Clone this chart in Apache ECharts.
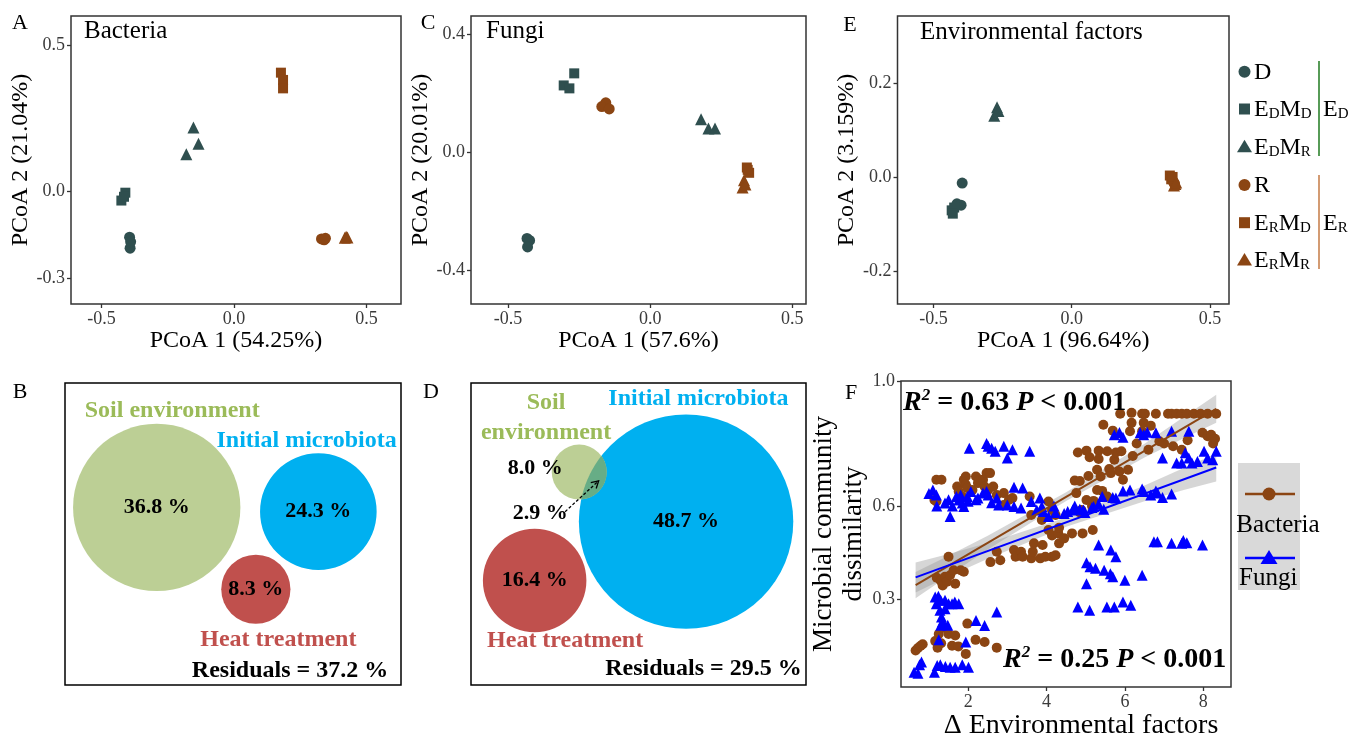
<!DOCTYPE html>
<html><head><meta charset="utf-8">
<script src="https://cdn.jsdelivr.net/npm/echarts@6/dist/echarts.min.js"></script>
<style>html,body{margin:0;padding:0;background:#fff}#c{width:1352px;height:736px}</style>
</head><body><div id="c"></div>
<script>
const FONT = "'Liberation Serif','Times New Roman',serif";
const C_DARK = '#2F4F4F', C_BROWN = '#8B4513', C_BLUE = '#0000FF';

// ---------- Panel A: Bacteria PCoA ----------
const bacD    = [[-0.394,-0.159],[-0.392,-0.197],[-0.390,-0.175]];
const bacEDMD = [[-0.410,-0.006],[-0.425,-0.033],[-0.415,-0.020]];
const bacEDMR = [[-0.153,0.218],[-0.134,0.162],[-0.180,0.126]];
const bacR    = [[0.330,-0.165],[0.340,-0.168],[0.345,-0.163]];
const bacERMD = [[0.177,0.407],[0.185,0.382],[0.185,0.353]];
const bacERMR = [[0.423,-0.158],[0.428,-0.160],[0.418,-0.161]];
// ---------- Panel C: Fungi PCoA ----------
const funD    = [[-0.433,-0.293],[-0.424,-0.300],[-0.431,-0.322]];
const funEDMD = [[-0.267,0.268],[-0.304,0.227],[-0.284,0.217]];
const funEDMR = [[0.179,0.112],[0.205,0.081],[0.228,0.081]];
const funR    = [[-0.156,0.168],[-0.170,0.155],[-0.144,0.147]];
const funERMD = [[0.340,-0.052],[0.348,-0.070],[0.343,-0.060]];
const funERMR = [[0.330,-0.095],[0.325,-0.120],[0.335,-0.110]];
// ---------- Panel E: Environmental factors PCoA ----------
const envD    = [[-0.396,-0.013],[-0.415,-0.057],[-0.400,-0.060]];
const envEDMD = [[-0.434,-0.071],[-0.425,-0.065],[-0.430,-0.078]];
const envEDMR = [[-0.270,0.148],[-0.280,0.130],[-0.265,0.140]];
const envR    = [[0.370,-0.012],[0.365,-0.008],[0.372,-0.015]];
const envERMD = [[0.355,0.003],[0.360,-0.005],[0.365,0.000]];
const envERMR = [[0.375,-0.015],[0.370,-0.018],[0.378,-0.012]];

const pcoaXTicks = [-0.5, 0, 0.5];
const bacYTicks = [-0.3, 0, 0.5];
const funYTicks = [-0.4, 0, 0.4];
const envYTicks = [-0.2, 0, 0.2];

// ---------- Panels B / D: variation partitioning ----------
const vennBNames = ['Soil environment', 'Initial microbiota', 'Heat treatment'];
const vennBValues = [36.8, 24.3, 8.3];
const vennBResidual = 37.2;
const vennDNames = ['Soil\nenvironment', 'Initial microbiota', 'Heat treatment'];
const vennDValues = [8.0, 48.7, 16.4];
const vennDShared = 2.9;
const vennDResidual = 29.5;

// ---------- Panel F ----------
const bacteriaPoints = [
 [0.66,0.137],[0.72,0.145],[0.79,0.152],[0.84,0.157],[1.16,0.167],[1.22,0.146],[1.25,0.19],[1.31,0.16],[1.37,0.21],[1.5,0.19],[1.59,0.152],[1.67,0.185],[1.75,0.15],[1.94,0.126],[1.98,0.223],[2.19,0.171],[2.42,0.164],[2.73,0.146],
 [1.2,0.37],[1.3,0.36],[1.32,0.362],[1.35,0.345],[1.41,0.373],[1.46,0.357],[1.5,0.437],[1.54,0.378],[1.63,0.394],[1.67,0.351],[1.81,0.394],[1.89,0.389],
 [1.14,0.619],[1.19,0.614],[1.19,0.684],[1.32,0.684],[1.72,0.662],[1.76,0.646],[1.85,0.63],[1.89,0.684],[1.94,0.694],[1.94,0.668],[1.98,0.657],[2.11,0.651],[2.2,0.694],[2.25,0.673],[2.29,0.684],[2.38,0.684],[2.42,0.662],[2.47,0.705],[2.51,0.651],[2.56,0.705],[2.64,0.662],[2.73,0.635],[2.91,0.641],[2.91,0.603],[3.04,0.619],[3.13,0.625],[3.57,0.63],
 [2.57,0.42],[2.73,0.453],[2.82,0.426],[3.17,0.459],[3.21,0.437],[3.35,0.453],[3.39,0.437],[3.61,0.432],[3.65,0.453],[3.68,0.48],[3.84,0.432],[3.9,0.475],[3.97,0.437],[4.05,0.523],[4.14,0.437],[4.14,0.505],[4.23,0.442],[4.3,0.512],[4.32,0.48],[4.45,0.496],[4.65,0.512],[4.92,0.512],[5.18,0.523],[3.61,0.571],[3.88,0.555],[4.05,0.614],[4.14,0.587],[4.23,0.571],[4.32,0.53],
 [4.72,0.681],[4.76,0.641],[4.8,0.771],[4.85,0.68],[4.85,0.579],[4.89,0.587],[5.02,0.777],[5.02,0.619],[5.07,0.696],[5.1,0.756],[5.16,0.6],[5.2,0.616],[5.29,0.716],[5.29,0.651],[5.33,0.777],[5.33,0.75],[5.38,0.694],[5.42,0.648],[5.45,0.86],[5.55,0.63],[5.55,0.775],[5.6,0.718],[5.64,0.705],[5.69,0.841],[5.73,0.748],[5.77,0.771],[5.86,0.71],[5.88,0.895],[5.91,0.775],[5.95,0.684],[6.08,0.716],[6.13,0.839],[6.17,0.866],[6.17,0.898],[6.2,0.76],[6.3,0.8],[6.44,0.895],[6.44,0.839],[6.48,0.866],[6.51,0.895],[6.6,0.78],[6.66,0.857],[6.79,0.895],[6.88,0.807],[7.0,0.8],[7.1,0.895],[7.19,0.895],[7.23,0.791],[7.32,0.895],[7.45,0.895],[7.45,0.78],[7.58,0.895],[7.6,0.81],[7.76,0.895],[7.93,0.895],[7.98,0.834],[8.11,0.823],[8.11,0.895],[8.2,0.828],[8.25,0.8],[8.33,0.895],[8.3,0.815]
];
const fungiPoints = [
 [0.62,0.067],[0.72,0.064],[0.76,0.091],[0.81,0.1],[1.14,0.067],[1.21,0.089],[1.29,0.091],[1.42,0.086],[1.54,0.083],[1.67,0.083],[1.85,0.091],[2.01,0.083],
 [1.16,0.308],[1.19,0.287],[1.24,0.311],[1.3,0.298],[1.41,0.298],[1.5,0.287],[1.59,0.287],[1.66,0.292],[1.76,0.287],[1.28,0.266],[1.32,0.244],[1.41,0.271],[1.3,0.218],[1.48,0.218],[1.35,0.23],[1.25,0.171],[1.94,0.164],[2.2,0.233],[2.42,0.217],[2.73,0.26],
 [2.03,0.785],[2.47,0.8],[2.51,0.791],[2.6,0.785],[2.69,0.775],[2.91,0.791],[3.0,0.753],[3.13,0.78],[3.57,0.775],
 [1.0,0.64],[1.1,0.651],[1.19,0.635],[1.2,0.6],[1.41,0.609],[1.5,0.62],[1.54,0.566],[1.6,0.6],[1.7,0.63],[1.76,0.619],[1.81,0.635],[1.85,0.609],[1.89,0.598],[1.98,0.63],[2.0,0.615],[2.07,0.646],[2.2,0.62],[2.25,0.625],[2.38,0.641],[2.47,0.646],[2.51,0.635],[2.6,0.61],[2.73,0.625],[2.78,0.603],[3.0,0.603],[3.17,0.598],[3.17,0.66],[3.35,0.593],[3.39,0.657],[3.61,0.614],
 [3.75,0.587],[3.83,0.625],[3.88,0.598],[3.92,0.582],[4.05,0.566],[4.19,0.6],[4.23,0.579],[4.45,0.576],[4.54,0.582],[4.67,0.587],[4.72,0.6],[4.85,0.589],[4.94,0.587],[4.98,0.579],[5.16,0.595],[5.2,0.598],[5.33,0.605],[5.42,0.63],[5.46,0.589],[5.69,0.627],[5.77,0.625],[5.95,0.648],[6.13,0.651],[6.44,0.654],[6.48,0.646],[6.66,0.635],[6.79,0.648],[6.83,0.641],[6.96,0.627],[7.19,0.638],
 [5.73,0.828],[5.86,0.835],[5.95,0.82],[6.39,0.834],[6.48,0.828],[6.57,0.836],[6.79,0.834],[7.19,0.839],[7.63,0.839],[6.96,0.753],[7.32,0.737],[7.45,0.737],[7.54,0.77],[7.63,0.753],[7.71,0.737],[7.85,0.742],[8.02,0.775],[8.11,0.753],[8.24,0.748],[8.33,0.775],
 [4.8,0.276],[5.02,0.418],[5.02,0.351],[5.11,0.405],[5.1,0.266],[5.25,0.4],[5.33,0.475],[5.47,0.394],[5.54,0.276],[5.63,0.383],[5.64,0.459],[5.69,0.373],[5.73,0.276],[5.77,0.437],[5.95,0.292],[6.0,0.362],[6.15,0.282],[6.44,0.378],
 [6.74,0.485],[6.83,0.485],[7.19,0.48],[7.45,0.48],[7.49,0.489],[7.58,0.482],[7.98,0.475]
];
const bacteriaFit = [[0.66,0.346],[8.33,0.911]];
const fungiFit = [[0.66,0.371],[8.33,0.723]];
const bandX = [0.66,1.5,2.5,4.5,6.5,7.5,8.33];
const bacteriaLower = [0.304,0.376,0.46,0.616,0.755,0.817,0.866];
const bacteriaUpper = [0.388,0.44,0.504,0.644,0.799,0.885,0.956];
const fungiLower = [0.323,0.374,0.431,0.533,0.615,0.651,0.678];
const fungiUpper = [0.419,0.446,0.481,0.563,0.665,0.721,0.768];
const fXTicks = [2,4,6,8];
const fYTicks = [0.3,0.6,1.0];

// ---------- layout (box fractions) ----------
const VENN_FILL = ['#bccf95','#00b0f0','#c0504d'];
const VENN_TEXT = ['#9bbb59','#00b0f0','#c0504d'];
const LAYOUT_B = {circles:[{c:[0.273,0.412],r:0.249},{c:[0.754,0.426],r:0.1735},{c:[0.568,0.683],r:0.103}],
  names:[[0.319,0.091],[0.719,0.19],[0.635,0.849]], residual:[0.962,0.953]};
const LAYOUT_D = {circles:[{c:[0.323,0.295],r:0.082},{c:[0.642,0.459],r:0.32},{c:[0.19,0.654],r:0.1545}],
  names:[[0.224,0.116],[0.679,0.053],[0.281,0.853]], valuePos:[[0.192,0.282],null,null],
  shared:[0.207,0.431], arrow:[[0.281,0.426],[0.381,0.324]], residual:[0.987,0.948], lens:true};

const chart = echarts.init(document.getElementById('c'), null, {renderer:'canvas'});

function txt(text, x, y, o) {
  o = o || {};
  return {type:'text', x:x, y:y, z:10, silent:true, style:{text:text, fill:o.fill||'#000',
    fontSize:o.fs||24, fontWeight:o.fw||'normal', fontStyle:o.st||'normal', fontFamily:FONT,
    textAlign:o.align||'left', align:o.align||'left', textVerticalAlign:'middle', verticalAlign:'middle',
    lineHeight:o.lh, rich:o.rich}};
}

function vAxis(grid, min, max, ticks, fmt, name, gap, isY, o) {
  o = o || {};
  return {type:'value', gridIndex:grid, min:min, max:max,
    axisLine:{show:false, onZero:false}, splitLine:{show:false},
    axisTick:{show:true, customValues:ticks, length:4, lineStyle:{color:'#333', width:1.3}},
    axisLabel:{show:true, customValues:ticks, formatter:fmt, color:'#3a3a3a', fontFamily:FONT, fontSize:o.fs||18, margin:o.margin||6},
    name:name, nameLocation:'middle', nameGap:gap, nameRotate:isY?90:0,
    nameTextStyle:{fontFamily:FONT, fontSize:o.nfs||24, color:'#000', lineHeight:o.lh, padding:o.pad}};
}
const f1 = v => Number(v).toFixed(1);
const f0 = v => String(v);

function hiddenAxis(grid, inv) { return {type:'value', gridIndex:grid, min:0, max:1, show:false, inverse:!!inv, axisLine:{onZero:false}}; }

const SYMS = ['circle','rect','triangle','circle','rect','triangle'];
const SIZES = [11,10,12,11,10,12];
const COLS = [C_DARK,C_DARK,C_DARK,C_BROWN,C_BROWN,C_BROWN];
function pcoaSeries(idx, sets) {
  return sets.map((d,i) => ({type:'scatter', xAxisIndex:idx, yAxisIndex:idx, data:d, symbol:SYMS[i],
    symbolSize:SIZES[i], itemStyle:{color:COLS[i], opacity:1}, silent:true, z:3}));
}

function lensPoly(c1, r1, c2, r2, n) {
  const dx = c2[0]-c1[0], dy = c2[1]-c1[1], d = Math.hypot(dx,dy);
  const a = (r1*r1 - r2*r2 + d*d)/(2*d);
  const al1 = Math.acos(Math.max(-1,Math.min(1,a/r1))), al2 = Math.acos(Math.max(-1,Math.min(1,(d-a)/r2)));
  const t0 = Math.atan2(dy,dx), t1 = t0 + Math.PI, pts = [];
  for (let i=0;i<=n;i++){const t=t0-al1+2*al1*i/n; pts.push([c1[0]+r1*Math.cos(t), c1[1]+r1*Math.sin(t)]);}
  for (let i=0;i<=n;i++){const t=t1-al2+2*al2*i/n; pts.push([c2[0]+r2*Math.cos(t), c2[1]+r2*Math.sin(t)]);}
  return pts;
}

function vennRender(L, names, values, residual, shared) {
  return function(params, api) {
    const sx = Math.abs(api.size([1,0])[0]);
    const pc = L.circles.map(c => api.coord(c.c));
    const pr = L.circles.map(c => c.r*sx);
    const ch = [];
    [1,0,2].forEach(i => ch.push({type:'circle', shape:{cx:pc[i][0], cy:pc[i][1], r:pr[i]}, style:{fill:VENN_FILL[i]}}));
    if (L.lens) ch.push({type:'polygon', shape:{points:lensPoly(pc[0],pr[0],pc[1],pr[1],40)}, style:{fill:'#67ad86'}});
    const T = (text, p, fill, align, lh) => ({type:'text', style:{text:text, x:p[0], y:p[1], fill:fill,
      fontSize:24, fontWeight:'bold', fontFamily:FONT, textAlign:align||'center', align:align||'center',
      textVerticalAlign:'middle', verticalAlign:'middle', lineHeight:lh||30}});
    names.forEach((nm,i) => ch.push(T(nm, api.coord(L.names[i]), VENN_TEXT[i])));
    values.forEach((v,i) => {
      const p = (L.valuePos && L.valuePos[i]) ? api.coord(L.valuePos[i]) : pc[i];
      const t = T(f1(v)+' %', p, '#000'); t.style.fontSize = 22; ch.push(t);
    });
    if (shared != null) {
      const t = T(f1(shared)+' %', api.coord(L.shared), '#000'); t.style.fontSize = 22; ch.push(t);
      const p0 = api.coord(L.arrow[0]), p1 = api.coord(L.arrow[1]);
      ch.push({type:'line', shape:{x1:p0[0],y1:p0[1],x2:p1[0],y2:p1[1]}, style:{stroke:'#000', lineWidth:1.3, lineDash:[3,2]}});
      const ux = (p1[0]-p0[0]), uy = (p1[1]-p0[1]), ul = Math.hypot(ux,uy), u=[ux/ul,uy/ul], nrm=[-u[1],u[0]];
      ch.push({type:'polyline', shape:{points:[[p1[0]-7*u[0]+4*nrm[0],p1[1]-7*u[1]+4*nrm[1]],p1,[p1[0]-7*u[0]-4*nrm[0],p1[1]-7*u[1]-4*nrm[1]]]}, style:{stroke:'#000', lineWidth:1.3, fill:null}});
    }
    ch.push(T('Residuals = '+f1(residual)+' %', api.coord(L.residual), '#000', 'right'));
    return {type:'group', children:ch};
  };
}

function bandRender(lower, upper) {
  return function(params, api) {
    const pts = [];
    bandX.forEach((x,i) => pts.push(api.coord([x, upper[i]])));
    for (let i=bandX.length-1;i>=0;i--) pts.push(api.coord([bandX[i], lower[i]]));
    return {type:'polygon', shape:{points:pts}, style:{fill:'rgba(153,153,153,0.4)'}};
  };
}

const G = (left, top, width, height, col) => ({left, top, width, height, show:true, borderColor:col||'#333',
  borderWidth:1.5, backgroundColor:'transparent', containLabel:false, outerBoundsMode:'none'});

const series = [].concat(
  pcoaSeries(0, [bacD,bacEDMD,bacEDMR,bacR,bacERMD,bacERMR]),
  pcoaSeries(1, [funD,funEDMD,funEDMR,funR,funERMD,funERMR]),
  pcoaSeries(2, [envD,envEDMD,envEDMR,envR,envERMD,envERMR]),
  [
    {type:'custom', xAxisIndex:3, yAxisIndex:3, data:[[0.5,0.5]], silent:true, clip:false,
      renderItem:vennRender(LAYOUT_B, vennBNames, vennBValues, vennBResidual, null)},
    {type:'custom', xAxisIndex:4, yAxisIndex:4, data:[[0.5,0.5]], silent:true, clip:false,
      renderItem:vennRender(LAYOUT_D, vennDNames, vennDValues, vennDResidual, vennDShared)},
    {type:'scatter', xAxisIndex:5, yAxisIndex:5, data:bacteriaPoints, symbol:'circle', symbolSize:10, itemStyle:{color:C_BROWN, opacity:1}, silent:true},
    {type:'scatter', xAxisIndex:5, yAxisIndex:5, data:fungiPoints, symbol:'triangle', symbolSize:11, itemStyle:{color:C_BLUE, opacity:1}, silent:true},
    {type:'custom', xAxisIndex:5, yAxisIndex:5, data:[[4,0.5]], silent:true, renderItem:bandRender(bacteriaLower, bacteriaUpper)},
    {type:'line', xAxisIndex:5, yAxisIndex:5, data:bacteriaFit, symbol:'none', lineStyle:{color:C_BROWN, width:2}, silent:true},
    {type:'custom', xAxisIndex:5, yAxisIndex:5, data:[[4,0.5]], silent:true, renderItem:bandRender(fungiLower, fungiUpper)},
    {type:'line', xAxisIndex:5, yAxisIndex:5, data:fungiFit, symbol:'none', lineStyle:{color:C_BLUE, width:2}, silent:true}
  ]
);

// legend (panel E) and other annotations
const subRich = {
  n:{fontSize:24, fontFamily:FONT, lineHeight:26, verticalAlign:'bottom'},
  s:{fontSize:15, fontFamily:FONT, lineHeight:12, verticalAlign:'bottom'}
};
const supRich = (col) => ({
  ri:{fontSize:28, fontWeight:'bold', fontStyle:'italic', fontFamily:FONT, color:col, lineHeight:30, verticalAlign:'bottom'},
  b:{fontSize:28, fontWeight:'bold', fontFamily:FONT, color:col, lineHeight:30, verticalAlign:'bottom'},
  sup:{fontSize:17, fontWeight:'bold', fontStyle:'italic', fontFamily:FONT, color:col, lineHeight:17, verticalAlign:'top'}
});
const LX = 1244.5, LT = 1254;
const legY = [71.7,109,146.7,185,222.7,260];
const legLabels = ['{n|D}','{n|E}{s|D}{n|M}{s|D}','{n|E}{s|D}{n|M}{s|R}','{n|R}','{n|E}{s|R}{n|M}{s|D}','{n|E}{s|R}{n|M}{s|R}'];
const gfx = [];
legY.forEach((y,i) => {
  const col = COLS[i];
  if (SYMS[i]==='circle') gfx.push({type:'circle', shape:{cx:LX, cy:y, r:6}, style:{fill:col}, silent:true});
  else if (SYMS[i]==='rect') gfx.push({type:'rect', shape:{x:LX-5.5, y:y-5.5, width:11, height:11}, style:{fill:col}, silent:true});
  else gfx.push({type:'polygon', shape:{points:[[LX,y-7],[LX+7.5,y+5.5],[LX-7.5,y+5.5]]}, style:{fill:col}, silent:true});
  gfx.push(txt(legLabels[i], LT, y, {rich:subRich}));
});
gfx.push({type:'line', shape:{x1:1319, y1:61, x2:1319, y2:156}, style:{stroke:'#1f7a1f', lineWidth:1.5}, silent:true});
gfx.push({type:'line', shape:{x1:1319, y1:175, x2:1319, y2:269}, style:{stroke:'#c47a45', lineWidth:1.5}, silent:true});
gfx.push(txt('{n|E}{s|D}', 1323, 109, {rich:subRich}));
gfx.push(txt('{n|E}{s|R}', 1323, 222.7, {rich:subRich}));

// panel letters and titles
[['A',20,23],['C',428,23],['E',850,25],['B',20,392],['D',431,392],['F',851,393]].forEach(a =>
  gfx.push(txt(a[0], a[1], a[2], {fs:22, align:'center'})));
gfx.push(txt('Bacteria', 84, 31, {fs:25}));
gfx.push(txt('Fungi', 486, 31, {fs:25}));
gfx.push(txt('Environmental factors', 920, 32, {fs:25}));

// panel F annotations
gfx.push(txt('{ri|R}{sup|2}{b| = 0.63 }{ri|P}{b| < 0.001}', 903, 402, {rich:supRich(C_BROWN)}));
gfx.push(txt('{ri|R}{sup|2}{b| = 0.25 }{ri|P}{b| < 0.001}', 1003, 659, {rich:supRich(C_BLUE)}));
// panel F legend
gfx.push({type:'rect', shape:{x:1238, y:463, width:62, height:127}, style:{fill:'#d9d9d9'}, silent:true});
gfx.push({type:'line', shape:{x1:1245, y1:494, x2:1295, y2:494}, style:{stroke:C_BROWN, lineWidth:2.5}, silent:true});
gfx.push({type:'circle', shape:{cx:1269, cy:494, r:6.5}, style:{fill:C_BROWN}, silent:true});
gfx.push(txt('Bacteria', 1278, 525, {fs:25, align:'center'}));
gfx.push({type:'line', shape:{x1:1245, y1:558, x2:1295, y2:558}, style:{stroke:C_BLUE, lineWidth:2.5}, silent:true});
gfx.push({type:'polygon', shape:{points:[[1269,550],[1277.5,564],[1260.5,564]]}, style:{fill:C_BLUE}, silent:true});
gfx.push(txt('Fungi', 1239, 578, {fs:25}));

const option = {
  animation:false,
  backgroundColor:'#fff',
  grid:[G(71,16,330,288), G(471,16,335,288), G(897.5,16,331.5,288), G(65,383,336,302,'#000'), G(471,383,335,302,'#000'), G(901,381,330,306)],
  xAxis:[
    vAxis(0,-0.615,0.63,pcoaXTicks,f1,'PCoA 1 (54.25%)',23,false),
    vAxis(1,-0.63,0.548,pcoaXTicks,f1,'PCoA 1 (57.6%)',23,false),
    vAxis(2,-0.63,0.569,pcoaXTicks,f1,'PCoA 1 (96.64%)',23,false),
    hiddenAxis(3), hiddenAxis(4),
    vAxis(5,0.287,8.707,fXTicks,f0,'\u0394 Environmental factors',23,false,{fs:18, nfs:28, pad:[0,0,0,30]})
  ],
  yAxis:[
    vAxis(0,-0.389,0.602,bacYTicks,f1,'PCoA 2 (21.04%)',35,true),
    vAxis(1,-0.516,0.463,funYTicks,f1,'PCoA 2 (20.01%)',35,true),
    vAxis(2,-0.27,0.342,envYTicks,f1,'PCoA 2 (3.159%)',35,true),
    hiddenAxis(3,true), hiddenAxis(4,true),
    vAxis(5,0.02,1.0,fYTicks,f1,'Microbial community\ndissimilarity',32,true,{fs:18, nfs:27, lh:30})
  ],
  series:series,
  graphic:{elements:gfx}
};
chart.setOption(option);
</script></body></html>
